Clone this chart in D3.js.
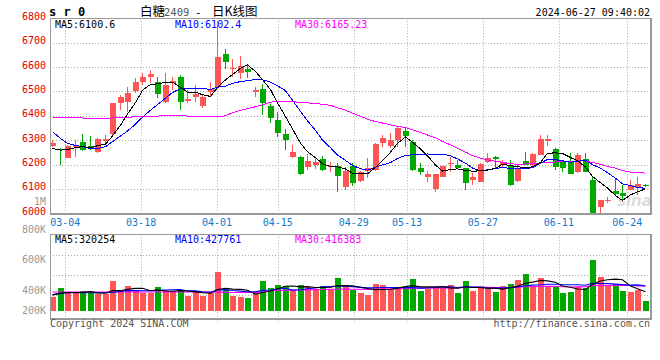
<!DOCTYPE html>
<html><head><meta charset="utf-8">
<script src="https://cdn.jsdelivr.net/npm/d3@7/dist/d3.min.js"></script>
<style>body{margin:0;background:#fff}svg{display:block}</style>
</head><body><svg id="c" width="660" height="360"></svg>
<script>
// ---------- data ----------
const dates = ["02-29","03-01","03-04","03-05","03-06","03-07","03-08","03-11","03-12","03-13","03-14","03-15",
"03-18","03-19","03-20","03-21","03-22","03-25","03-26","03-27","03-28","03-29","04-01","04-02","04-03",
"04-08","04-09","04-10","04-11","04-12","04-15","04-16","04-17","04-18","04-19","04-22","04-23","04-24","04-25","04-26",
"04-29","04-30","05-06","05-07","05-08","05-09","05-10","05-13","05-14","05-15","05-16","05-17","05-20","05-21","05-22","05-23","05-24",
"05-27","05-28","05-29","05-30","05-31","06-03","06-04","06-05","06-06","06-07","06-11","06-12","06-13","06-14",
"06-17","06-18","06-19","06-20","06-21","06-24","06-25","06-26","06-27"];
const open  = [6277,6265,6228,6272,6292,6276,6251,6298,6325,6451,6458,6502,6540,6560,6540,6458,6536,6560,6462,6478,
6441,6499,6519,6653,6592,6577,6592,6499,6508,6441,6383,6325,6232,6232,6191,6198,6221,6188,6195,6109,
6194,6134,6175,6177,6287,6277,6301,6338,6294,6185,6150,6098,6150,6205,6198,6185,6137,6130,6209,6232,
6200,6198,6133,6215,6198,6239,6298,6264,6209,6209,6168,6221,6137,6024,6051,6093,6085,6096,6102,6118];
const high  = [6300,6268,6280,6300,6325,6317,6310,6321,6454,6485,6519,6554,6574,6588,6560,6574,6560,6567,6506,6526,
6485,6540,6790,6674,6632,6645,6612,6519,6530,6448,6414,6344,6280,6234,6243,6232,6235,6212,6205,6191,
6205,6173,6225,6287,6321,6328,6355,6351,6301,6205,6174,6161,6195,6232,6218,6185,6164,6205,6246,6235,
6220,6218,6198,6253,6246,6321,6321,6267,6215,6246,6246,6246,6153,6055,6068,6139,6116,6137,6150,6119];
const low   = [6270,6198,6225,6232,6255,6259,6248,6287,6321,6424,6417,6492,6526,6533,6472,6451,6506,6424,6451,6458,
6433,6478,6512,6591,6560,6550,6554,6476,6403,6369,6314,6260,6225,6157,6177,6180,6174,6170,6088,6095,
6112,6130,6143,6174,6274,6267,6274,6274,6175,6157,6130,6089,6147,6171,6185,6096,6116,6128,6205,6180,
6190,6112,6130,6198,6195,6239,6276,6177,6171,6161,6167,6171,5993,5993,6044,6075,6052,6096,6075,6106];
const close = [6290,6260,6276,6282,6259,6264,6306,6306,6451,6478,6495,6540,6560,6571,6488,6526,6544,6458,6467,6488,
6476,6508,6643,6622,6596,6604,6581,6506,6454,6392,6331,6301,6253,6161,6214,6212,6177,6195,6153,6173,
6125,6171,6187,6284,6310,6301,6351,6319,6178,6171,6161,6161,6195,6208,6187,6126,6148,6202,6225,6221,
6212,6116,6185,6198,6243,6303,6304,6191,6185,6161,6239,6171,6000,6055,6055,6080,6072,6116,6119,6112];
const volume = [239,389,312,296,334,296,284,284,506,334,418,351,296,296,401,334,334,346,256,334,
256,296,656,367,256,239,222,322,506,389,434,418,351,434,406,367,418,367,556,418,
351,301,267,451,434,367,401,389,534,334,367,401,401,434,301,501,334,401,367,317,
418,451,518,618,418,551,418,401,301,317,401,379,852,568,418,451,334,317,351,167].map(v => v * 1000);
// moving-average values before the visible window
const ma5Lead  = [6266,6259,6262,6269];
const ma10Lead = [6335,6307,6287,6279,6273,6266,6265,6273,6294];
const ma30Lead = [6394,6394,6393,6392,6391,6390,6390,6390,6391,6392,6394,6396,6397,6398,6399,6400,6401,6400,6399,6399,
6398,6398,6396,6400,6413,6422,6430,6437,6445];
const vma5Lead  = [270000,300000,310000,310000];
const vma10Lead = [270000,295000,305000,305000,305000,305000,305000,305000,310000];
const vma30Lead = [318000,318000,318000,318000,318000,318000,318000,318000,318000,318000,318000,318000,318000,318000,318000,
318000,318000,318000,318000,318000,318000,318000,316000,312000,310000,310000,312000,315000,320000];
const priceTicks = [6700,6600,6500,6400,6300,6200,6100];
const priceLabels = [6800,6700,6600,6500,6400,6300,6200,6100,6000];
const volLabels = [800000,600000,400000,200000];
const dateTicks = ["03-04","03-18","04-01","04-15","04-29","05-13","05-27","06-11","06-24"];
const maTexts = ["MA5:6100.6","MA10:6102.4","MA30:6165.23"];
const vmaTexts = ["MA5:320254","MA10:427761","MA30:416383"];

// ---------- layout ----------
const L = 50, R = 650, T = 18.3, B = 213.3;
const VT = 234.3, VB = 318.3, VBase = 311;
const n = dates.length;
const svg = d3.select("#c");
const mono = "'DejaVu Sans Mono', 'Liberation Mono', monospace";
const UP = "#ff5555", DOWN = "#00a800";

const xb = d3.scaleBand().domain(d3.range(n)).range([L, R]).paddingInner(0);
const gx = d3.scaleLinear().domain([0, n - 1]).range([L, R]);
const y = d3.scaleLinear().domain([6000, 6800]).range([B, T]);
const yv = d3.scaleLinear().domain([0, 1286000]).range([VBase, VT]);
const yvLab = d3.scaleLinear().domain([800000, 600000, 400000, 200000]).range([233, 263, 294, 314]);
const vGrid = d3.scaleLinear().domain([0, 4]).range([235.3, 315.3]);

function ma(arr, k, lead) {
  return arr.map((d, i) => i < k - 1 ? lead[i] : d3.mean(arr.slice(i - k + 1, i + 1)));
}

// ---------- header ----------
svg.append("text").attr("x", 49).attr("y", 16).attr("font-family", mono).attr("font-weight", "bold")
  .attr("font-size", 12).attr("fill", "#000").text("s r 0");
const cjk = "'Noto Sans CJK SC', sans-serif";
svg.append("text").attr("x", 140).attr("y", 15.5).attr("font-family", cjk).attr("font-size", 12.5).attr("fill", "#000").text("白糖");
svg.append("text").attr("x", 164).attr("y", 15.5).attr("font-family", mono).attr("font-size", 10.5).attr("fill", "#555").text("2409");
svg.append("text").attr("x", 195).attr("y", 15.5).attr("font-family", mono).attr("font-size", 11).attr("fill", "#000").text("-");
svg.append("text").attr("x", 212).attr("y", 15.5).attr("font-family", cjk).attr("font-size", 12.5).attr("fill", "#000").text("日K线图");
svg.append("text").attr("x", 650).attr("y", 16).attr("text-anchor", "end").attr("font-family", mono)
  .attr("font-size", 10).attr("fill", "#000").text("2024-06-27 09:40:02");

// ---------- grids ----------
const grid = svg.append("g").attr("stroke", "#aaa").attr("stroke-dasharray", "1,2").attr("stroke-width", 1);
priceTicks.forEach(p => grid.append("line").attr("x1", L).attr("x2", R)
  .attr("y1", Math.round(y(p)) + 0.5).attr("y2", Math.round(y(p)) + 0.5));
dateTicks.forEach(d => {
  const xx = Math.round(gx(dates.indexOf(d))) + 0.5;
  grid.append("line").attr("x1", xx).attr("x2", xx).attr("y1", T).attr("y2", B);
  grid.append("line").attr("x1", xx).attr("x2", xx).attr("y1", VT).attr("y2", 322);
});
[1, 2, 3].forEach(k => grid.append("line").attr("x1", L).attr("x2", R)
  .attr("y1", Math.round(vGrid(k)) + 0.5).attr("y2", Math.round(vGrid(k)) + 0.5));

// watermark
svg.append("text").attr("x", 617).attr("y", 206).attr("font-family", "'DejaVu Sans', sans-serif")
  .attr("font-style", "italic").attr("font-weight", "bold").attr("font-size", 15).attr("fill", "#dcdcdc").text("sina");

// ---------- candles ----------
svg.append("clipPath").attr("id", "mclip").append("rect").attr("x", L).attr("y", T).attr("width", R - L).attr("height", B - T);
const cg = svg.append("g").attr("clip-path", "url(#mclip)").attr("shape-rendering", "crispEdges");
d3.range(n).forEach(i => {
  const col = close[i] >= open[i] ? UP : DOWN;
  const bx = Math.round(xb(i));
  cg.append("rect").attr("x", bx + 2).attr("width", 1)
    .attr("y", y(high[i])).attr("height", Math.max(1, y(low[i]) - y(high[i]))).attr("fill", col);
  const top = y(Math.max(open[i], close[i])), bot = y(Math.min(open[i], close[i]));
  cg.append("rect").attr("x", bx).attr("width", 6)
    .attr("y", top).attr("height", Math.max(1, bot - top)).attr("fill", col);
});

// MA lines (price)
const cx = i => Math.round(xb(i)) + 2.5;
const ma5 = ma(close, 5, ma5Lead), ma10 = ma(close, 10, ma10Lead), ma30 = ma(close, 30, ma30Lead);
const pline = d3.line().x((d, i) => cx(i)).y(d => y(d));
[[ma30, "#ff00ff"], [ma10, "#0000ff"], [ma5, "#000"]].forEach(([arr, c]) =>
  cg.append("path").attr("d", pline(arr)).attr("fill", "none").attr("stroke", c).attr("stroke-width", 1));

// ---------- volume ----------
const vg = svg.append("g").attr("shape-rendering", "crispEdges");
d3.range(n).forEach(i => {
  const col = close[i] >= open[i] ? UP : DOWN;
  vg.append("rect").attr("x", Math.round(xb(i))).attr("width", 6)
    .attr("y", yv(volume[i])).attr("height", VBase - yv(volume[i])).attr("fill", col);
});
const vma5 = ma(volume, 5, vma5Lead), vma10 = ma(volume, 10, vma10Lead), vma30 = ma(volume, 30, vma30Lead);
const vline = d3.line().x((d, i) => cx(i)).y(d => yv(d));
[[vma30, "#ff00ff"], [vma10, "#0000ff"], [vma5, "#000"]].forEach(([arr, c]) =>
  svg.append("path").attr("d", vline(arr)).attr("fill", "none").attr("stroke", c).attr("stroke-width", 1.1));

// ---------- frames ----------
function frame(t, b) {
  const g = svg.append("g").attr("shape-rendering", "crispEdges");
  g.append("line").attr("x1", L).attr("x2", R + 1).attr("y1", Math.round(t) + 0.5).attr("y2", Math.round(t) + 0.5).attr("stroke", "#999");
  g.append("line").attr("x1", L + 0.5).attr("x2", L + 0.5).attr("y1", t).attr("y2", b + 1).attr("stroke", "#999");
  g.append("line").attr("x1", R + 1).attr("x2", R + 1).attr("y1", t).attr("y2", b + 2).attr("stroke", "#999").attr("stroke-width", 2);
  g.append("line").attr("x1", L).attr("x2", R + 2).attr("y1", Math.round(b) + 1).attr("y2", Math.round(b) + 1).attr("stroke", "#999").attr("stroke-width", 2);
}
frame(T, B);
frame(VT, VB);

// ---------- axis labels ----------
priceLabels.forEach(p => svg.append("text").attr("x", 46).attr("y", y(p) + 1.5).attr("text-anchor", "end")
  .attr("font-family", mono).attr("font-size", 10).attr("fill", "#dd0000").text(p));
svg.append("text").attr("x", 46).attr("y", 205).attr("text-anchor", "end")
  .attr("font-family", mono).attr("font-size", 10).attr("fill", "#999").text("1M");
volLabels.forEach(v => svg.append("text").attr("x", 46).attr("y", yvLab(v)).attr("text-anchor", "end")
  .attr("font-family", mono).attr("font-size", 10).attr("fill", "#999").text(d3.format("~s")(v).replace("k", "K")));
dateTicks.forEach(d => svg.append("text").attr("x", gx(dates.indexOf(d))).attr("y", 225.5).attr("text-anchor", "middle")
  .attr("font-family", mono).attr("font-size", 10).attr("fill", "#1478c8").text(d));

// MA legends
const maCols = ["#000", "#0000ff", "#ff00ff"], maX = [55, 175, 295];
maTexts.forEach((t, k) => svg.append("text").attr("x", maX[k]).attr("y", 27.5).attr("font-family", mono)
  .attr("font-size", 10).attr("fill", maCols[k]).text(t));
vmaTexts.forEach((t, k) => svg.append("text").attr("x", maX[k]).attr("y", 242.5).attr("font-family", mono)
  .attr("font-size", 10).attr("fill", maCols[k]).text(t));

// footer
svg.append("text").attr("x", 50).attr("y", 327).attr("font-family", mono).attr("font-size", 10).attr("fill", "#555").text("Copyright 2024 SINA.COM");
svg.append("text").attr("x", 650).attr("y", 327).attr("text-anchor", "end").attr("font-family", mono).attr("font-size", 10).attr("fill", "#555").text("http://finance.sina.com.cn");
</script></body></html>
